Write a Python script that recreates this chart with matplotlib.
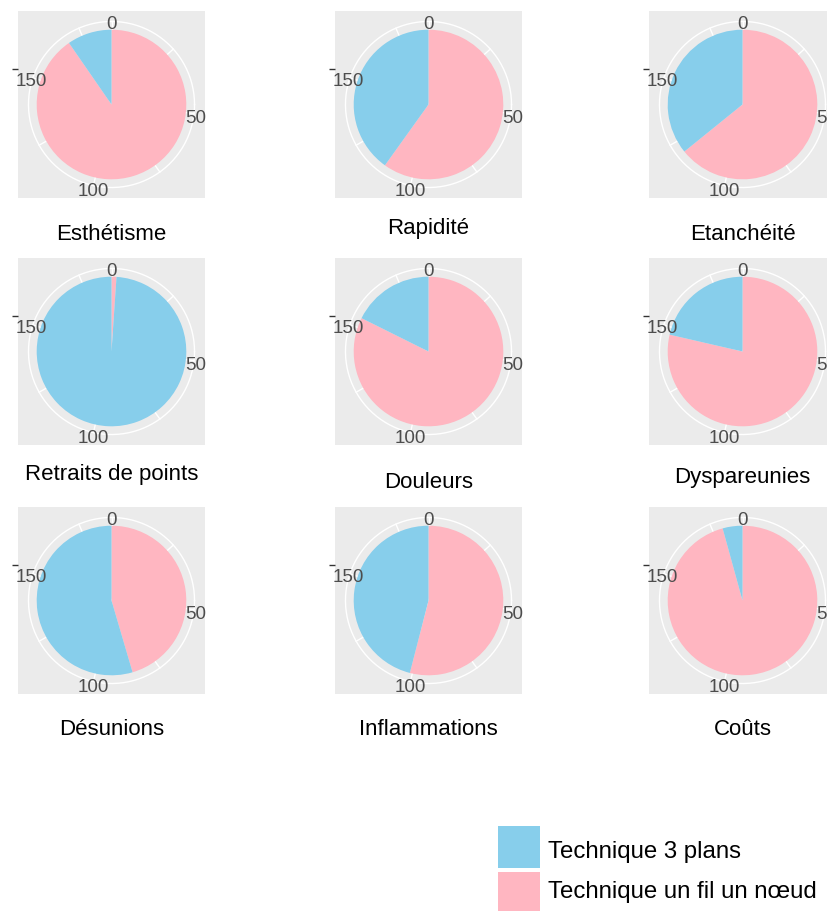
#Import models
import numpy as np
import matplotlib.pyplot as plt
from matplotlib.patches import Rectangle

#Categories and counts for each technique
categories = ["Esthétisme", "Rapidité", "Etanchéité",
              "Retraits de points", "Douleurs", "Dyspareunies",
              "Désunions", "Inflammations", "Coûts"]
trois_plans = [18, 75, 67, 185, 33, 40, 102, 86, 8]
un_fil = [169, 112, 120, 2, 154, 147, 85, 101, 179]
theta_ticks = [0, 50, 100, 150]
legend_labels = ["Technique 3 plans", "Technique un fil un nœud"]

#Colours (ggplot like)
blue = "#87CEEB"
pink = "#FFB6C1"
grey_bg = "#EBEBEB"
tick_col = "#4D4D4D"

plt.rcParams['font.family'] = ['Liberation Sans', 'DejaVu Sans']

W, H = 827, 911
fig = plt.figure(figsize=(W / 100, H / 100), dpi=100)

#Layout in pixels
col_left = [18, 335, 649]
row_top = [11, 258, 507]
size = 187
title_base = [240, 234, 240, 480, 488, 483, 735, 735, 735]
lim = 1.25
outer = 1.11

for i, name in enumerate(categories):
    r, c = divmod(i, 3)
    ax = fig.add_axes([col_left[c] / W, 1 - (row_top[r] + size) / H, size / W, size / H])
    total = trois_plans[i] + un_fil[i]

    #white grid: spokes every 25 and the outer circle
    for v in np.arange(0, total, 25):
        a = np.deg2rad(v / total * 360)
        ax.plot([0, outer * np.sin(a)], [0, outer * np.cos(a)], color='white', lw=1, zorder=1)
    t = np.linspace(0, 2 * np.pi, 300)
    ax.plot(outer * np.cos(t), outer * np.sin(t), color='white', lw=1, zorder=1)

    #the pie, clockwise from the top
    ax.pie([un_fil[i], trois_plans[i]], colors=[pink, blue], startangle=90,
           counterclock=False, radius=1, frame=True,
           wedgeprops=dict(linewidth=0, zorder=3))

    #theta tick labels
    for v in theta_ticks:
        a = np.deg2rad(v / total * 360)
        ax.text(1.13 * np.sin(a), 1.13 * np.cos(a) - 0.06, str(v), ha='center', va='center',
                color=tick_col, fontsize=13.5, zorder=4)

    ax.set_xlim(-lim, lim)
    ax.set_ylim(-lim, lim)
    ax.set_facecolor(grey_bg)
    for s in ax.spines.values():
        s.set_visible(False)
    ax.set_xticks([])
    ax.set_yticks([0.48])
    ax.set_yticklabels([''])
    ax.tick_params(axis='y', length=4, width=1, color='#333333')

    #panel caption
    fig.text((col_left[c] + size / 2) / W, 1 - title_base[i] / H, name,
             ha='center', va='baseline', fontsize=16, color='black')

#Legend drawn by hand at the bottom right
leg_colors = [blue, pink]
leg_top = [826, 872]
leg_base = [858, 898]
for k in range(2):
    fig.add_artist(Rectangle((498 / W, 1 - (leg_top[k] + 42) / H), 42 / W, 42 / H,
                             transform=fig.transFigure, facecolor=leg_colors[k],
                             edgecolor='none'))
    fig.text(548 / W, 1 - leg_base[k] / H, legend_labels[k], ha='left', va='baseline',
             fontsize=17.3, color='black')

fig.savefig('out.png', dpi=100)
